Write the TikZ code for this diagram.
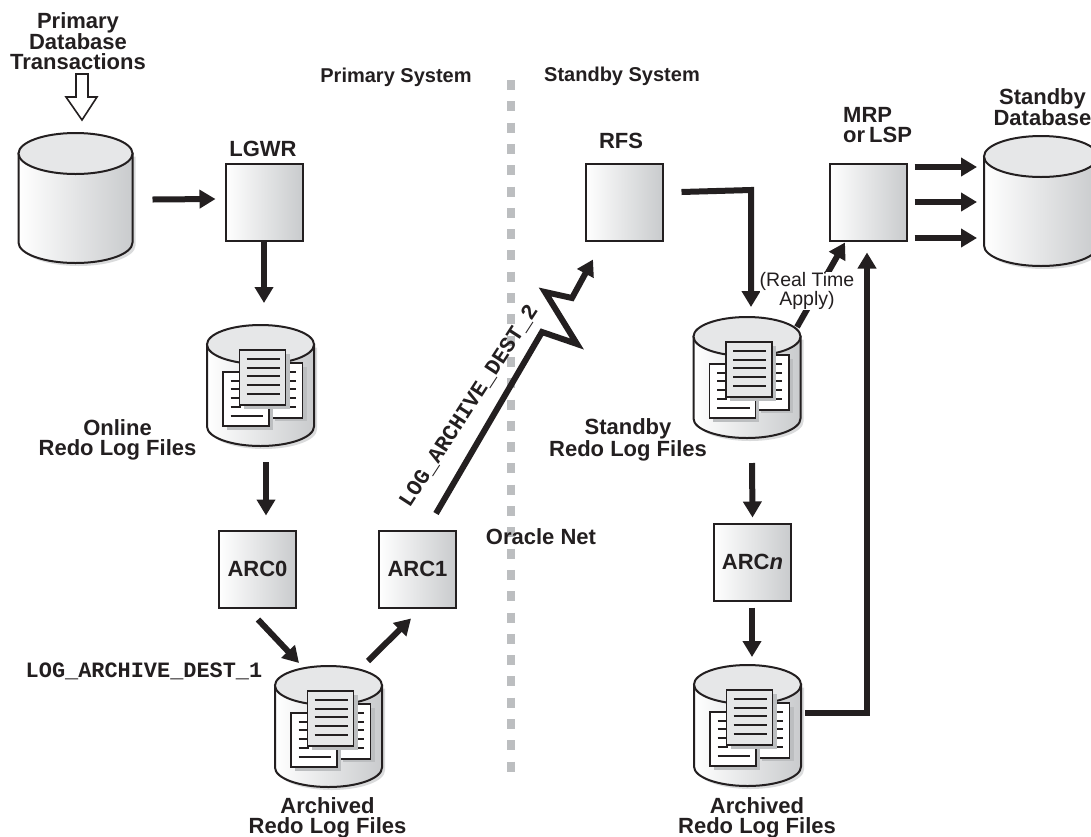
\documentclass[tikz,border=0pt]{standalone}
\usepackage{fontspec}
\setmainfont{Liberation Sans}
\setmonofont{Liberation Mono}
\usetikzlibrary{arrows.meta}
\definecolor{inkblack}{HTML}{231F20}
\definecolor{topgray}{HTML}{E6E7E8}
\definecolor{shadegray}{HTML}{C9CBCD}
\definecolor{shadowgray}{HTML}{BCBEC0}
% radius, ellipse radius, height
\newcommand{\drumshape}[3]{
  \fill[shadowgray!55] (-#1+3,#2+3) -- (-#1+3,#3-#2+3) arc[start angle=180,end angle=360,x radius=#1pt,y radius=#2pt] -- (#1+3,#2+3) -- cycle;
  \path[draw=inkblack,line width=2pt,left color=white,right color=shadegray] (-#1,#2) -- (-#1,#3-#2) arc[start angle=180,end angle=360,x radius=#1pt,y radius=#2pt] -- (#1,#2) -- cycle;
  \draw[inkblack,line width=2pt,fill=topgray] (0,#2) ellipse[x radius=#1pt,y radius=#2pt];
  \node (-body) at (0,#3/2) [minimum width=2*#1 pt+2pt,minimum height=#3 pt,inner sep=0pt,outer sep=0pt] {};
}
\tikzset{
  sqbox/.style={draw=inkblack,line width=2pt,minimum size=77pt,inner sep=0pt,outer sep=0pt,left color=white,right color=shadegray,text=inkblack,font=\fontsize{22}{22}\selectfont\bfseries},
  flow/.style={line width=6pt,draw=inkblack,-{Triangle[length=16pt,width=18pt]}},
  lbl/.style={inner sep=0pt,align=center,text=inkblack,font=\fontsize{22}{19.7}\selectfont\bfseries},
  syslbl/.style={inner sep=0pt,text=inkblack,font=\fontsize{20}{20}\selectfont\bfseries},
  plain/.style={inner sep=0pt,align=center,text=inkblack,font=\fontsize{19.5}{19.5}\selectfont},
  destlbl/.style={inner sep=0pt,text=inkblack,font=\fontsize{21.9}{21.9}\selectfont\ttfamily\bfseries},
  pagedoc/.style={draw=inkblack,line width=1.6pt,fill=#1},
  pagetext/.style={draw=inkblack,line width=1.2pt},
  drum/.pic={\drumshape{57}{20.5}{130}},
  logdrum/.pic={
    \drumshape{53.5}{19.5}{121}
    % back pages, then the front one
    \fill[shadowgray] (14,42) rectangle (46,96);
    \draw[pagedoc=white] (9,38) rectangle (42,93);
    \foreach \y in {47,56,64,73,82} \draw[pagetext] (26,\y) -- (35,\y);
    \fill[shadowgray] (-34,51) rectangle (12,105);
    \draw[pagedoc=white] (-37.5,47) rectangle (8.5,101);
    \foreach \y in {56,64,73,82} \draw[pagetext] (-30,\y) -- (-20,\y);
    \draw[pagetext] (-30,91) -- (2.5,91);
    \fill[shadowgray] (-17,29) rectangle (29,84);
    \draw[pagedoc=topgray] (-21,25) rectangle (25,80);
    \foreach \y in {34,43,51,60,69} \draw[pagetext] (-14,\y) -- (19,\y);
  }
}
\begin{document}
\begin{tikzpicture}[x=1pt,y=-1pt]
  \useasboundingbox (0,0) rectangle (1091,836);
  \clip (0,0) rectangle (1091,836);

  % dividing line
  \coordinate (divtop) at (511,80);
  \coordinate (divbot) at (511,772);
  \draw[shadowgray,line width=8pt,dash pattern=on 10pt off 11.3pt] (divtop) -- (divbot);

  % databases
  \pic (primarydb) at (75.5,133) {drum};
  \pic (standbydb) at (1041,136) {drum};
  \pic (online) at (260.5,325) {logdrum};
  \pic (archleft) at (328.5,666) {logdrum};
  \pic (standbylog) at (747,317) {logdrum};
  \pic (archright) at (747.5,665) {logdrum};

  % processes
  \node[sqbox] (lgwr) at (264,202) {};
  \node[sqbox] (arczero) at (257.5,569) {ARC0};
  \node[sqbox] (arcone) at (417.5,569) {ARC1};
  \node[sqbox] (arcn) at (752.5,562) {\raisebox{-6pt}{ARC\textit{n}}};
  \node[sqbox] (rfs) at (624,202) {};
  \node[sqbox] (mrp) at (868,202) {};

  % labels
  \node[lbl] (txlabel) at (78,41) {Primary\\Database\\Transactions};
  \draw[inkblack,line width=1.6pt,fill=white] (76,74) -- (88,74) -- (88,97) -- (97,97) -- (82,120) -- (66,97) -- (76,97) -- cycle;
  \node[syslbl] (primsys) at (396,77) {Primary System};
  \node[syslbl] (stbysys) at (622,76) {Standby System};
  \node[lbl] (lgwrlbl) at (263,149) {LGWR};
  \node[lbl] (rfslbl) at (621,141) {RFS};
  \node[lbl,align=left,anchor=west] (mrplbl) at (843,125) {MRP\\or\kern4pt LSP};
  \node[lbl] (stbydblbl) at (1042.5,107) {Standby\\Database};
  \node[lbl] (onlinelbl) at (117.5,440) {Online\\Redo Log Files};
  \node[lbl] (stbyloglbl) at (628,440) {Standby\hspace{8pt}\\Redo Log Files};
  \node[lbl] (netlbl) at (541,537) {Oracle Net};
  \node[lbl] (archleftlbl) at (327.5,817.5) {Archived\hspace{7pt}\\Redo Log Files};
  \node[lbl] (archrightlbl) at (757,817.5) {Archived\hspace{7pt}\\Redo Log Files};
  \node[destlbl] (destone) at (144,671) {LOG\_ARCHIVE\_DEST\_1};
  \node[destlbl,rotate=57] (desttwo) at (469,406) {LOG\_ARCHIVE\_DEST\_2};

  % primary side
  \draw[flow] ([shift={(19,1.5)}]primarydb-body.east) -- ([shift={(-10,-3)}]lgwr.west);
  \draw[flow] ([yshift=-1pt]lgwr.south) -- ([shift={(3.5,-22)}]online-body.north);
  \draw[flow] ([shift={(5.5,16)}]online-body.south) -- ([shift={(8.5,-15)}]arczero.north);
  \draw[flow] ([shift={(0.5,12)}]arczero.south) -- ([shift={(-29.5,-3)}]archleft-body.north);
  \draw[flow] ([shift={(39.5,-5)}]archleft-body.north) -- ([shift={(-6.5,11)}]arcone.south);

  % oracle net link
  \coordinate (kinka) at (542,332);
  \coordinate (kinkb) at (577,344);
  \coordinate (kinkc) at (545,292);
  \coordinate (kinkd) at (572,298);
  \draw[flow,miter limit=10] ([shift={(18.5,-17)}]arcone.north) -- (kinka) -- (kinkb) -- (kinkc) -- (kinkd) -- ([shift={(-31,19)}]rfs.south);

  % standby side
  \coordinate (rfsbend) at (751,190);
  \draw[flow] ([shift={(19,-10)}]rfs.east) -- (rfsbend) -- ([shift={(4,-10)}]standbylog-body.north);
  \draw[flow] ([shift={(50,10)}]standbylog-body.north) -- ([shift={(-23,2)}]mrp.south);
  \node[plain,fill=white] (rtalbl) at (807,291) {(Real Time\\Apply)};
  \draw[flow] ([shift={(5,25)}]standbylog-body.south) -- ([yshift=6pt]arcn.north);
  \draw[flow] ([shift={(-0.5,7)}]arcn.south) -- ([shift={(4.5,-8)}]archright-body.north);
  \draw[flow] ([shift={(3,-13)}]archright-body.east) -| ([shift={(-1,12)}]mrp.south);
  \foreach \y in {167,202,238}
    \draw[flow] (mrp.east |- 0,\y) ++(8,0) -- (977,\y);
\end{tikzpicture}
\end{document}
